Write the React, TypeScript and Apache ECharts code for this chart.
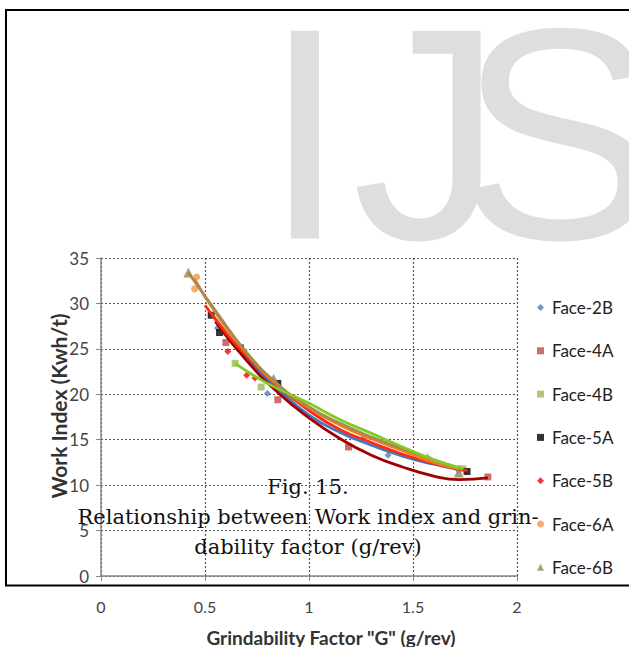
import React, { useEffect, useRef } from "react";
import * as echarts from "echarts";

// ---- data ----
const seriesNames = ["Face-2B", "Face-4A", "Face-4B", "Face-5A", "Face-5B", "Face-6A", "Face-6B"];
const markerColors = ["#4A7EBB", "#BE4B48", "#98B954", "#000000", "#FF0000", "#F79646", "#938953"];
const markerSymbols = ["diamond", "rect", "rect", "rect", "diamond", "circle", "triangle"];

const face2B = [[0.56, 27.3], [0.80, 20.1], [1.26, 15.2], [1.38, 13.3], [1.72, 11.6]];
const face4A = [[0.60, 25.7], [0.85, 19.4], [1.19, 14.2], [1.86, 10.9]];
const face4B = [[0.645, 23.4], [0.77, 20.8], [1.57, 12.8], [1.74, 11.8]];
const face5A = [[0.53, 28.7], [0.57, 26.8], [0.67, 25.1], [0.85, 21.2], [1.76, 11.5]];
const face5B = [[0.61, 24.7], [0.70, 22.1], [0.74, 21.8], [1.72, 11.8]];
const face6A = [[0.46, 32.9], [0.45, 31.6], [1.72, 11.8]];
const face6B = [[0.42, 33.4], [0.83, 21.7], [1.57, 13.0], [1.72, 11.4]];
const pointSets = [face2B, face4A, face4B, face5A, face5B, face6A, face6B];

// trend curves
const trend2B = [[0.53, 28.9], [0.7, 24.0], [0.85, 20.6], [1.0, 17.7], [1.15, 15.8], [1.3, 14.4], [1.45, 13.2], [1.6, 12.3], [1.72, 11.7]];
const trend4A = [[0.55, 28.0], [0.7, 23.7], [0.85, 20.2], [1.0, 17.4], [1.15, 15.1], [1.3, 13.3], [1.45, 12.0], [1.6, 11.0], [1.72, 10.6], [1.86, 10.8]];
const trend5B = [[0.5, 29.8], [0.6, 26.8], [0.7, 24.2], [0.85, 20.9], [1.0, 18.2], [1.15, 16.1], [1.3, 14.7], [1.45, 13.4], [1.6, 12.4], [1.76, 11.6]];
const trend6A = [[0.45, 32.7], [0.55, 29.0], [0.7, 24.5], [0.85, 21.0], [1.0, 18.5], [1.15, 16.6], [1.3, 15.1], [1.45, 13.8], [1.6, 12.5], [1.72, 11.8]];
const trend6B = [[0.42, 33.4], [0.55, 29.2], [0.7, 24.6], [0.85, 21.1], [1.0, 18.6], [1.15, 16.8], [1.3, 15.3], [1.45, 14.0], [1.6, 12.8], [1.72, 11.9]];
const trend4B = [[0.645, 23.4], [0.8, 21.2], [1.0, 19.0], [1.15, 17.2], [1.3, 15.7], [1.45, 14.2], [1.6, 12.8], [1.74, 11.8]];
const trendSets = [trend2B, trend4A, trend5B, trend6A, trend6B, trend4B];
const trendColors = ["#3F78C6", "#A00000", "#FF2A10", "#F08020", "#A88A4E", "#80CC22"];

const xTicks = { min: 0, max: 2, interval: 0.5 };
const yTicks = { min: 0, max: 35, interval: 5 };

const xTitle = 'Grindability Factor "G" (g/rev)';
const yTitle = "Work Index (Kwh/t)";
const captionLines = ["Fig. 15.", "Relationship between Work index and grin-", "dability factor (g/rev)"];
const watermarkLetters = ["I", "J", "S"];

export default function App() {
  const ref = useRef<HTMLDivElement>(null);
  useEffect(() => {
    const chart = echarts.init(ref.current!, undefined, { renderer: "svg" });
    const font = "Lato";
    const scatter = pointSets.map((d, i) => ({
      type: "scatter",
      name: seriesNames[i],
      data: d,
      symbol: markerSymbols[i],
      symbolSize: markerSymbols[i] === "triangle" ? 10 : 7,
      itemStyle: { color: markerColors[i] },
      z: 2,
    }));
    const lines = trendSets.map((d, i) => ({
      type: "line",
      name: "trend" + i,
      data: d,
      smooth: true,
      showSymbol: false,
      lineStyle: { color: trendColors[i], width: 2.8 },
      itemStyle: { color: trendColors[i] },
      z: 3,
    }));
    const wmLeft = [263, 352, 458];
    chart.setOption({
      animation: false,
      backgroundColor: "#ffffff",
      grid: { left: 101, top: 258, width: 416, height: 318, containLabel: false },
      legend: {
        data: seriesNames,
        orient: "vertical",
        left: 532,
        top: 294,
        itemWidth: 7,
        itemHeight: 7,
        itemGap: 26.3,
        textStyle: { fontFamily: font, fontSize: 17, color: "#222", padding: [0, 0, 0, 3] },
      },
      xAxis: {
        type: "value",
        ...xTicks,
        axisLine: { show: true, onZero: false, lineStyle: { color: "#888", width: 1.5 } },
        axisTick: { show: true, length: 5, lineStyle: { color: "#888" } },
        axisLabel: { margin: 22, fontFamily: font, fontSize: 16, color: "#444" },
        splitLine: { show: true, lineStyle: { color: "#555", type: [2, 2], width: 1.2 } },
      },
      yAxis: {
        type: "value",
        ...yTicks,
        axisLine: { show: true, lineStyle: { color: "#888", width: 1.5 } },
        axisTick: { show: true, length: 5, lineStyle: { color: "#888" } },
        axisLabel: { margin: 12, fontFamily: font, fontSize: 17, color: "#444" },
        splitLine: { show: true, lineStyle: { color: "#555", type: [2, 2], width: 1.2 } },
      },
      graphic: [
        // watermark
        ...watermarkLetters.map((t, i) => ({
          type: "text",
          left: wmLeft[i],
          top: -17,
          z: -10,
          style: { text: t, font: "302px 'Liberation Sans'", fill: "#DEDEDE" },
        })),
        // frame
        { type: "line", z: 20, shape: { x1: 5, y1: 10, x2: 629, y2: 10 }, style: { stroke: "#000", lineWidth: 2 } },
        { type: "line", z: 20, shape: { x1: 6, y1: 10, x2: 6, y2: 586 }, style: { stroke: "#000", lineWidth: 2 } },
        { type: "line", z: 20, shape: { x1: 5, y1: 585.5, x2: 629, y2: 585.5 }, style: { stroke: "#000", lineWidth: 2 } },
        // axis titles
        {
          type: "text",
          z: 10,
          x: 331,
          y: 637,
          style: { text: xTitle, font: `bold 19px ${font}`, fill: "#333", align: "center", verticalAlign: "middle" },
        },
        {
          type: "text",
          z: 10,
          x: 58,
          y: 406,
          rotation: Math.PI / 2,
          style: { text: yTitle, font: `bold 21px ${font}`, fill: "#333", align: "center", verticalAlign: "middle" },
        },
        // caption
        ...captionLines.map((t, i) => ({
          type: "text",
          z: 30,
          x: 308,
          y: 487 + i * 30,
          style: {
            text: t,
            font: "21px 'DejaVu Serif'",
            fill: "#111",
            align: "center",
            verticalAlign: "middle",
          },
        })),
      ],
      series: [...scatter, ...lines],
    });
    return () => chart.dispose();
  }, []);
  return <div ref={ref} style={{ width: 629, height: 647, position: "absolute", left: 0, top: 0 }} />;
}
